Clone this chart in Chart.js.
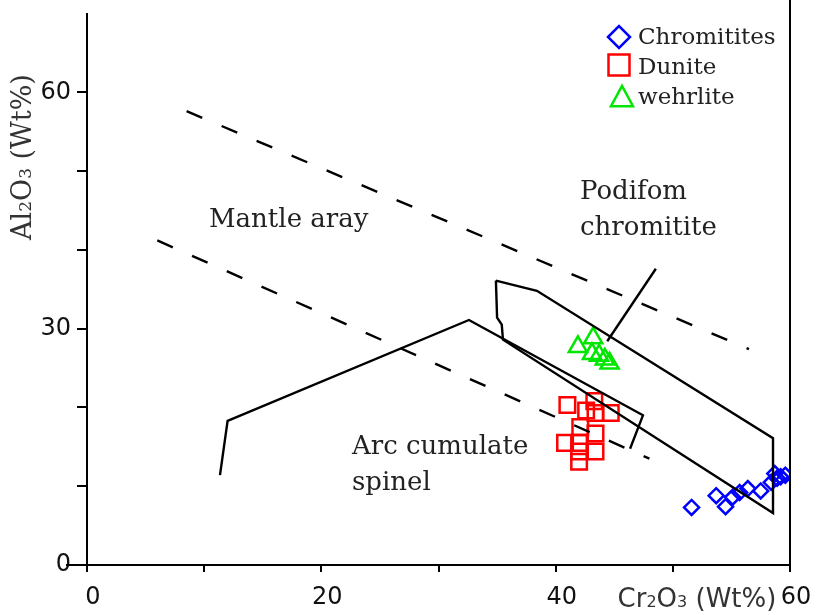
<!DOCTYPE html>
<html>
<head>
<meta charset="utf-8">
<script src="https://cdn.jsdelivr.net/npm/chart.js@4/dist/chart.umd.min.js"></script>
<style>
  html, body { margin: 0; padding: 0; background: #fff; }
  #wrap { width: 825px; height: 615px; }
</style>
</head>
<body>
<div id="wrap"><canvas id="spinelChart" width="825" height="615"></canvas></div>
<script>
// DATA  (x = Cr2O3 wt%, y = Al2O3 wt%)
const chromititeCr = [51.6, 53.7, 54.5, 55.1, 55.7, 56.4, 57.5, 58.4, 58.7, 59.2, 59.6, 58.9];
const chromititeAl = [7.3, 8.8, 7.4, 8.6, 9.2, 9.7, 9.4, 10.5, 11.6, 11.2, 11.4, 11.0];

const duniteCr = [41.0, 43.3, 42.6, 43.4, 44.7, 42.1, 43.4, 40.8, 42.0, 43.4, 42.0, 42.0];
const duniteAl = [20.3, 20.8, 19.6, 19.3, 19.3, 17.5, 16.7, 15.5, 15.5, 14.4, 14.4, 13.1];

const wehrliteCr = [41.9, 43.2, 43.1, 43.7, 44.2, 44.6];
const wehrliteAl = [27.7, 28.8, 26.8, 26.6, 26.1, 25.6];

// field boundaries
const mantleUpperCr = [8.5, 56.5];
const mantleUpperAl = [57.6, 27.4];
const mantleLowerCr = [6.0, 48.0];
const mantleLowerAl = [41.2, 13.5];

const arcCr = [11.35, 12.0, 32.6, 47.45, 46.35];
const arcAl = [11.4, 18.3, 31.1, 19.0, 14.75];

const podCr = [34.9, 38.4, 58.55, 58.55, 35.5, 35.4, 35.0, 34.9];
const podAl = [36.1, 34.8, 16.1, 6.6, 28.6, 30.5, 31.4, 36.1];

const leaderCr = [48.55, 44.4];
const leaderAl = [37.6, 28.4];

// AXIS TICKS
const xLabelled = [0, 20, 40, 60];
const yLabelled = [0, 30, 60];

function pts(xs, ys) {
  return xs.map((x, i) => ({ x: x, y: ys[i] }));
}

function lineSet(xs, ys, dashed) {
  return {
    data: pts(xs, ys),
    showLine: true,
    borderColor: '#000',
    borderWidth: 2.4,
    borderDash: dashed ? [17, 21] : [],
    pointRadius: 0,
    fill: false,
    tension: 0
  };
}

function markerSet(label, xs, ys, style, radius, color) {
  return {
    label: label,
    data: pts(xs, ys),
    showLine: false,
    pointStyle: style,
    pointRadius: radius,
    pointHoverRadius: radius,
    borderColor: color,
    backgroundColor: 'rgba(0,0,0,0)',
    pointBorderWidth: 2.5,
    borderWidth: 2.5
  };
}

// text with subscript digits, e.g. Al2O3
function drawFormula(ctx, text, x, y, size, family, color, center) {
  const big = size + 'px ' + family;
  const small = Math.round(size * 0.62) + 'px ' + family;
  const segs = [];
  for (let i = 0; i < text.length; i++) {
    const ch = text[i];
    const sub = /[0-9]/.test(ch) && i > 0 && /[A-Za-z]/.test(text[i - 1]);
    segs.push({ ch: ch, sub: sub });
  }
  let total = 0;
  segs.forEach(s => {
    ctx.font = s.sub ? small : big;
    s.w = ctx.measureText(s.ch).width;
    total += s.w;
  });
  let cx = center ? x - total / 2 : x;
  ctx.fillStyle = color;
  ctx.textBaseline = 'alphabetic';
  ctx.textAlign = 'left';
  segs.forEach(s => {
    ctx.font = s.sub ? small : big;
    ctx.fillText(s.ch, cx, y);
    cx += s.w;
  });
}

function legendMark(ctx, style, x, y, r, color) {
  ctx.save();
  ctx.strokeStyle = color;
  ctx.lineWidth = 2.5;
  ctx.beginPath();
  if (style === 'rectRot') {
    ctx.moveTo(x - r, y); ctx.lineTo(x, y - r); ctx.lineTo(x + r, y); ctx.lineTo(x, y + r);
  } else if (style === 'rect') {
    ctx.rect(x - r, y - r, 2 * r, 2 * r);
  } else {
    ctx.moveTo(x, y - r * 1.1); ctx.lineTo(x + r, y + r * 0.75); ctx.lineTo(x - r, y + r * 0.75);
  }
  ctx.closePath();
  ctx.stroke();
  ctx.restore();
}

const decor = {
  id: 'decor',
  afterDraw(chart) {
    const ctx = chart.ctx;
    const a = chart.chartArea;
    ctx.save();
    // right frame line and x-axis stub to the left
    ctx.strokeStyle = '#000';
    ctx.lineWidth = 2;
    ctx.beginPath();
    ctx.moveTo(a.right, 0); ctx.lineTo(a.right, a.bottom);
    ctx.moveTo(66, a.bottom); ctx.lineTo(a.left, a.bottom);
    ctx.stroke();

    // axis titles
    drawFormula(ctx, 'Cr2O3 (Wt%)', 697, 607, 26, '"DejaVu Sans"', '#333', true);
    ctx.save();
    ctx.translate(31, 157);
    ctx.rotate(-Math.PI / 2);
    drawFormula(ctx, 'Al2O3 (Wt%)', 0, 0, 27, '"DejaVu Serif"', '#333', true);
    ctx.restore();

    // field labels
    ctx.fillStyle = '#222';
    ctx.textAlign = 'left';
    ctx.textBaseline = 'alphabetic';
    ctx.font = '26px "DejaVu Serif"';
    ctx.fillText('Mantle aray', 209, 227);
    ctx.fillText('Podifom', 580, 199);
    ctx.fillText('chromitite', 580, 235);
    ctx.fillText('Arc cumulate', 352, 454);
    ctx.fillText('spinel', 352, 490);

    // legend
    ctx.font = '23px "DejaVu Serif"';
    legendMark(ctx, 'rectRot', 619, 37, 11, '#0000ff');
    ctx.fillStyle = '#222';
    ctx.fillText('Chromitites', 638, 44);
    legendMark(ctx, 'rect', 619, 65, 10.5, '#ff0000');
    ctx.fillStyle = '#222';
    ctx.fillText('Dunite', 638, 74);
    legendMark(ctx, 'triangle', 622, 98, 11, '#00e600');
    ctx.fillStyle = '#222';
    ctx.fillText('wehrlite', 638, 104);
    ctx.restore();
  }
};

const ctx = document.getElementById('spinelChart');
const chart = new Chart(ctx, {
  type: 'scatter',
  data: {
    datasets: [
      lineSet(mantleUpperCr, mantleUpperAl, true),
      lineSet(mantleLowerCr, mantleLowerAl, true),
      lineSet(arcCr, arcAl, false),
      lineSet(podCr, podAl, false),
      lineSet(leaderCr, leaderAl, false),
      markerSet('Chromitites', chromititeCr, chromititeAl, 'rectRot', 7.5, '#0000ff'),
      markerSet('Dunite', duniteCr, duniteAl, 'rect', 11, '#ff0000'),
      markerSet('wehrlite', wehrliteCr, wehrliteAl, 'triangle', 10.5, '#00e600')
    ]
  },
  options: {
    responsive: false,
    animation: false,
    layout: { padding: { left: 0, right: 35, top: 7, bottom: 0 } },
    plugins: {
      legend: { display: false },
      tooltip: { enabled: false }
    },
    scales: {
      x: {
        type: 'linear',
        min: 0,
        max: 60,
        afterFit: s => { s.height = 50; s.paddingLeft = 0; s.paddingRight = 0; },
        border: { display: true, color: '#000', width: 2 },
        grid: { display: true, drawOnChartArea: false, drawTicks: true, tickLength: 7, color: '#000', lineWidth: 2 },
        ticks: {
          stepSize: 10,
          maxRotation: 0,
          padding: 11,
          labelOffset: 6,
          color: '#111',
          font: { family: '"DejaVu Sans"', size: 24 },
          callback: v => xLabelled.includes(v) ? String(v) : ''
        }
      },
      y: {
        type: 'linear',
        min: 0,
        max: 70,
        afterFit: s => { s.width = 87; s.paddingTop = 0; s.paddingBottom = 0; },
        afterBuildTicks: s => { s.ticks = s.ticks.filter(t => t.value <= 60); },
        border: { display: true, color: '#000', width: 2 },
        grid: { display: true, drawOnChartArea: false, drawTicks: true, tickLength: 10, color: '#000', lineWidth: 2 },
        ticks: {
          stepSize: 10,
          padding: 6,
          color: '#111',
          font: { family: '"DejaVu Sans"', size: 24 },
          callback: v => yLabelled.includes(v) ? String(v) : ''
        }
      }
    }
  },
  plugins: [decor]
});
</script>
</body>
</html>
